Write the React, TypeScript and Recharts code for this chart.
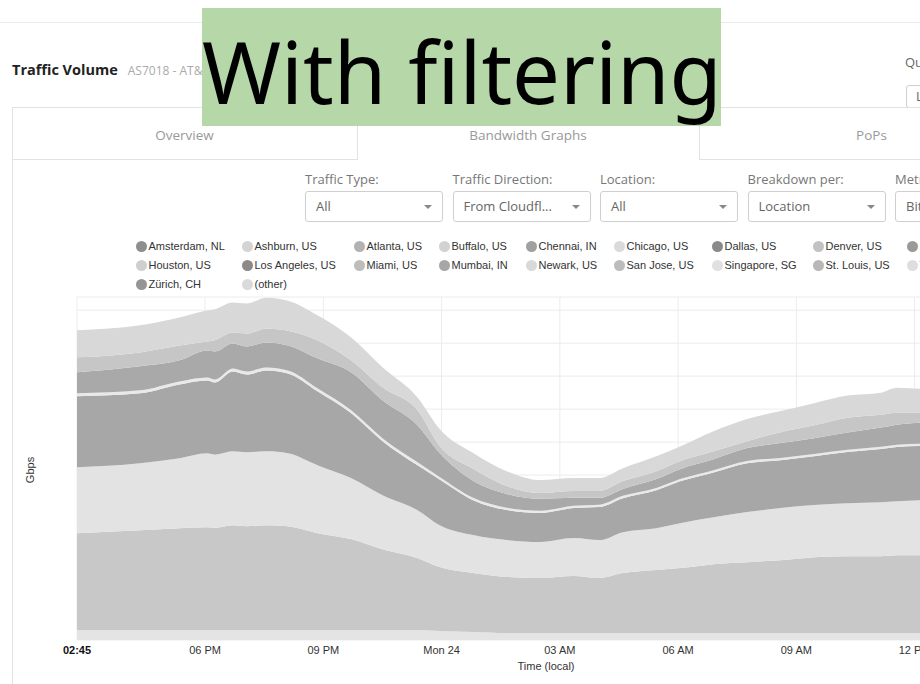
import { AreaChart, Area, XAxis, YAxis, CartesianGrid } from "recharts";

// time in hours from Sunday 00:00 (local)
const hours = [
  14.75, 16.35, 17.35, 18.05, 18.25, 18.7, 19.05, 19.55, 20.1, 20.85, 21.7, 22.5,
  23.4, 23.95, 24.8, 25.65, 26.5, 27.35, 28.0, 28.6, 29.45, 30.05, 30.9, 31.75,
  32.6, 33.45, 34.3, 35.15, 35.55, 36.15, 37.5, 38.75,
];

// stacked series, bottom to top (Gbps)
const singapore = [
  3.0, 3.0, 3.0, 3.0, 3.0, 3.0, 3.0, 3.0, 3.0, 3.0, 3.0, 3.0, 3.0, 2.7, 2.4, 2.1,
  2.1, 2.1, 2.1, 2.1, 2.1, 2.1, 2.1, 2.1, 2.1, 2.1, 2.1, 2.1, 2.1, 2.1, 2.1, 2.1,
];
const ashburn = [
  29.4, 30.3, 30.9, 31.2, 31.0, 31.8, 31.5, 31.8, 31.5, 29.4, 27.6, 24.5, 21.8,
  19.4, 17.9, 17.0, 16.7, 17.3, 16.7, 18.2, 19.1, 19.7, 20.9, 21.5, 22.1, 23.0,
  23.3, 23.3, 23.6, 23.6, 23.9, 24.2,
];
const chicago = [
  20.0, 20.3, 21.2, 22.4, 22.2, 22.4, 22.4, 22.4, 22.1, 20.6, 18.5, 16.4, 14.5,
  12.7, 11.5, 11.2, 10.9, 11.5, 11.5, 12.4, 12.7, 13.6, 14.2, 15.2, 15.8, 15.8,
  16.1, 16.4, 16.4, 16.7, 16.7, 16.7,
];
const dallas = [
  21.5, 21.2, 22.4, 22.1, 21.9, 24.2, 23.6, 24.5, 24.2, 22.4, 19.7, 16.4, 13.6,
  13.9, 10.6, 9.1, 8.8, 9.1, 10.0, 10.3, 11.5, 12.7, 13.6, 14.8, 14.5, 14.8, 15.5,
  16.1, 16.4, 16.4, 16.7, 16.7,
];
const newark = [
  0.9, 0.9, 0.9, 0.9, 0.9, 0.9, 0.9, 0.9, 0.9, 0.9, 0.9, 0.9, 0.9, 0.7, 0.7, 0.7,
  0.7, 0.7, 0.7, 0.7, 0.7, 0.7, 0.7, 0.7, 0.7, 0.7, 0.7, 0.7, 0.7, 0.7, 0.7, 0.7,
];
const losAngeles = [
  6.4, 7.3, 6.4, 8.2, 8.5, 7.6, 7.6, 7.6, 7.6, 9.1, 11.5, 11.5, 11.2, 7.3, 5.2,
  4.2, 3.6, 2.4, 2.1, 2.1, 2.7, 3.0, 3.3, 3.9, 4.5, 4.8, 5.2, 5.8, 6.1, 6.4, 6.4,
  6.4,
];
const miami = [
  4.5, 4.2, 4.5, 2.7, 3.4, 3.3, 3.9, 4.2, 4.5, 5.5, 3.6, 3.9, 4.5, 2.1, 3.6, 2.4,
  1.8, 2.1, 2.1, 2.4, 2.4, 2.4, 2.4, 2.1, 3.3, 3.9, 4.5, 3.9, 3.6, 3.0, 3.0, 3.3,
];
const other = [
  8.2, 8.2, 8.5, 9.4, 9.4, 9.1, 9.1, 9.4, 9.1, 7.6, 7.0, 6.1, 3.9, 5.2, 4.8, 4.5,
  3.9, 3.9, 3.9, 3.9, 4.5, 4.5, 6.1, 6.7, 6.4, 6.7, 6.7, 6.7, 7.6, 7.3, 7.6, 7.6,
];

const seriesKeys = ["singapore", "ashburn", "chicago", "dallas", "newark", "losAngeles", "miami", "other"];
const seriesColors = ["#e4e4e4", "#c8c8c8", "#e3e3e3", "#a7a7a7", "#e9e9e9", "#a9a9a9", "#c6c6c6", "#d8d8d8"];

const xTicks = [14.75, 18, 21, 24, 27, 30, 33, 36];
const xTickLabels = ["02:45", "06 PM", "09 PM", "Mon 24", "03 AM", "06 AM", "09 AM", "12 PM"];
const yTicks = [0, 10, 20, 30, 40, 50, 60, 70, 80, 90, 100];

const legendNames = [
  "Amsterdam, NL", "Ashburn, US", "Atlanta, US", "Buffalo, US", "Chennai, IN", "Chicago, US",
  "Dallas, US", "Denver, US", "Frankfurt, DE", "Houston, US", "Los Angeles, US", "Miami, US",
  "Mumbai, IN", "Newark, US", "San Jose, US", "Singapore, SG", "St. Louis, US", "Toronto, CA",
  "Zürich, CH", "(other)",
];
const legendColors = [
  "#8e8e8e", "#d4d4d4", "#b2b2b2", "#d2d2d2", "#a0a0a0", "#dadada", "#8a8a8a", "#c2c2c2", "#9a9a9a",
  "#cfcfcf", "#8a8a8a", "#bdbdbd", "#a7a7a7", "#d9d9d9", "#bcbcbc", "#e0e0e0", "#b8b8b8", "#dedede",
  "#959595", "#dadada",
];

const filterLabels = ["Traffic Type:", "Traffic Direction:", "Location:", "Breakdown per:", "Metric:"];
const filterValues = ["All", "From Cloudfl...", "All", "Location", "Bits/s"];

const chartData = hours.map((h, i) => ({
  h,
  singapore: singapore[i],
  ashburn: ashburn[i],
  chicago: chicago[i],
  dallas: dallas[i],
  newark: newark[i],
  losAngeles: losAngeles[i],
  miami: miami[i],
  other: other[i],
}));

const legendCols = [0, 106, 218, 303, 390, 478, 576, 677, 771];

function TimeTick(props: any) {
  const { x, y, payload } = props;
  const idx = xTicks.indexOf(payload.value);
  const first = idx === 0;
  return (
    <text
      x={x}
      y={y}
      dy="0.71em"
      textAnchor="middle"
      fontFamily='"Liberation Sans", Arial, sans-serif'
      fontSize={11}
      fontWeight={first ? 700 : 400}
      fill={first ? "#111" : "#333"}
    >
      {xTickLabels[idx]}
    </text>
  );
}

function Select({ left, top, width, value }: { left: number; top: number; width: number; value: string }) {
  return (
    <div
      style={{
        position: "absolute",
        left,
        top,
        width,
        height: 31,
        boxSizing: "border-box",
        border: "1px solid #cfcfcf",
        borderRadius: 3,
        background: "#fff",
        fontSize: 13,
        color: "#666",
        lineHeight: "29px",
        paddingLeft: 10,
        whiteSpace: "nowrap",
        overflow: "hidden",
      }}
    >
      {value}
      <div
        style={{
          position: "absolute",
          right: 10,
          top: 13,
          width: 0,
          height: 0,
          borderLeft: "4px solid transparent",
          borderRight: "4px solid transparent",
          borderTop: "4px solid #888",
        }}
      />
    </div>
  );
}

export default function App() {
  return (
    <div
      style={{
        position: "relative",
        width: 920,
        height: 684,
        overflow: "hidden",
        background: "#fff",
        fontFamily: '"Open Sans", sans-serif',
      }}
    >
      <style>{"body{margin:0}"}</style>

      {/* page header */}
      <div style={{ position: "absolute", left: 0, top: 22, width: 920, height: 1, background: "#ebebeb" }} />
      <div style={{ position: "absolute", left: 12, top: 59, whiteSpace: "nowrap", lineHeight: "20px" }}>
        <span style={{ fontSize: 14.5, fontWeight: 700, color: "#222" }}>Traffic Volume</span>
        <span style={{ fontSize: 12, color: "#aaa", marginLeft: 10 }}>AS7018 - AT&amp;T Services, Inc.</span>
      </div>
      <div style={{ position: "absolute", left: 905, top: 53, fontSize: 13, color: "#666", whiteSpace: "nowrap" }}>
        Query Time:
      </div>
      <div
        style={{
          position: "absolute",
          left: 906,
          top: 85,
          width: 140,
          height: 23,
          boxSizing: "border-box",
          border: "1px solid #cfcfcf",
          borderRadius: 3,
          fontSize: 13,
          color: "#666",
          lineHeight: "21px",
          paddingLeft: 9,
          whiteSpace: "nowrap",
        }}
      >
        Last 24 hours
      </div>

      {/* tabs */}
      <div style={{ position: "absolute", left: 12, top: 107, width: 1000, height: 1, background: "#e2e2e2" }} />
      <div style={{ position: "absolute", left: 12, top: 107, width: 1, height: 600, background: "#e2e2e2" }} />
      <div style={{ position: "absolute", left: 12, top: 159, width: 345, height: 1, background: "#e2e2e2" }} />
      <div style={{ position: "absolute", left: 357, top: 107, width: 1, height: 53, background: "#e2e2e2" }} />
      <div style={{ position: "absolute", left: 699, top: 107, width: 1, height: 53, background: "#e2e2e2" }} />
      <div style={{ position: "absolute", left: 699, top: 159, width: 400, height: 1, background: "#e2e2e2" }} />
      <div style={{ position: "absolute", left: 12, top: 124, width: 345, textAlign: "center", fontSize: 13.5, color: "#999", lineHeight: "22px" }}>
        Overview
      </div>
      <div style={{ position: "absolute", left: 357, top: 124, width: 342, textAlign: "center", fontSize: 13.5, color: "#999", lineHeight: "22px" }}>
        Bandwidth Graphs
      </div>
      <div style={{ position: "absolute", left: 699, top: 124, width: 345, textAlign: "center", fontSize: 13.5, color: "#999", lineHeight: "22px" }}>
        PoPs
      </div>

      {/* filters */}
      {filterLabels.map((label, i) => (
        <div key={label}>
          <div
            style={{
              position: "absolute",
              left: 305 + i * 147.5,
              top: 170,
              fontSize: 13,
              color: "#777",
              lineHeight: "18px",
              whiteSpace: "nowrap",
            }}
          >
            {label}
          </div>
          <Select left={305 + i * 147.5} top={191} width={138} value={filterValues[i]} />
        </div>
      ))}

      {/* legend */}
      {legendNames.map((name, i) => {
        const row = Math.floor(i / 9);
        const col = i % 9;
        return (
          <div
            key={name}
            style={{
              position: "absolute",
              left: 135.5 + legendCols[col],
              top: 236.5 + row * 19,
              height: 19,
              display: "flex",
              alignItems: "center",
              whiteSpace: "nowrap",
              fontFamily: '"Liberation Sans", Arial, sans-serif',
              fontSize: 11,
              color: "#333",
            }}
          >
            <span
              style={{
                display: "inline-block",
                width: 11,
                height: 11,
                borderRadius: "50%",
                background: legendColors[i],
                marginRight: 2,
              }}
            />
            {name}
          </div>
        );
      })}

      {/* chart */}
      <div
        style={{
          position: "absolute",
          left: 30,
          top: 470,
          transform: "translate(-50%, -50%) rotate(-90deg)",
          fontFamily: '"Liberation Sans", Arial, sans-serif',
          fontSize: 11,
          color: "#333",
        }}
      >
        Gbps
      </div>
      <div style={{ position: "absolute", left: 0, top: 290 }}>
        <AreaChart width={1040} height={394} data={chartData} margin={{ top: 7, right: 17, left: 77, bottom: 14 }}>
          <CartesianGrid stroke="#ececec" strokeWidth={1} />
          <XAxis
            dataKey="h"
            type="number"
            domain={[14.75, 38.75]}
            ticks={xTicks}
            tick={<TimeTick />}
            tickLine={false}
            axisLine={false}
            tickSize={6}
            tickMargin={0}
            interval={0}
            height={30}
          />
          <YAxis hide domain={[0, 104]} ticks={yTicks} />
          {seriesKeys.map((k, i) => (
            <Area
              key={k}
              dataKey={k}
              stackId="loc"
              type="monotone"
              stroke="none"
              fill={seriesColors[i]}
              fillOpacity={1}
              isAnimationActive={false}
            />
          ))}
        </AreaChart>
      </div>
      <div
        style={{
          position: "absolute",
          left: 446,
          top: 660,
          width: 200,
          textAlign: "center",
          fontFamily: '"Liberation Sans", Arial, sans-serif',
          fontSize: 11,
          color: "#333",
        }}
      >
        Time (local)
      </div>

      {/* annotation overlay */}
      <div
        style={{
          position: "absolute",
          left: 202,
          top: 8,
          width: 519,
          height: 118,
          background: "#b6d7a8",
          overflow: "hidden",
        }}
      >
        <div
          style={{
            position: "absolute",
            left: 0,
            top: 21,
            width: 519,
            textAlign: "center",
            fontFamily: '"Noto Sans", "Open Sans", sans-serif',
            fontSize: 85,
            lineHeight: 1,
            color: "#000",
            whiteSpace: "nowrap",
          }}
        >
          With filtering
        </div>
      </div>
    </div>
  );
}
